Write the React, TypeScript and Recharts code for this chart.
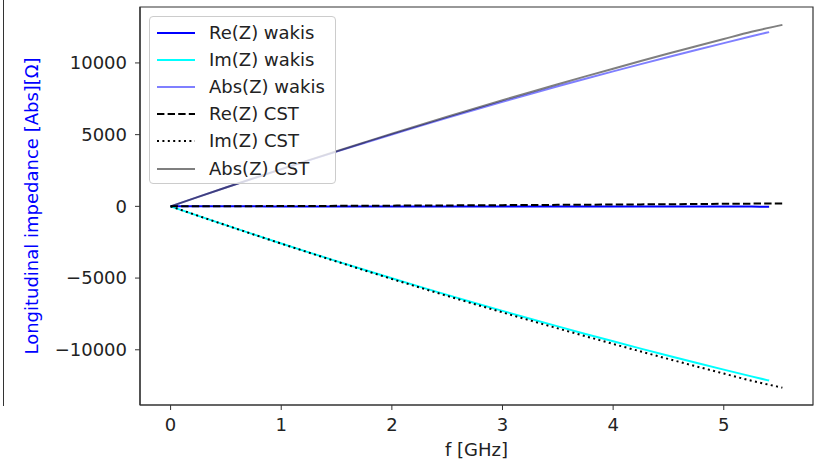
import React from "react";
import { Label, Line, LineChart, ReferenceArea, XAxis, YAxis } from "recharts";

// frequency grids [GHz]
const freqWakis = [0, 0.25, 0.5, 0.75, 1, 1.25, 1.5, 1.75, 2, 2.25, 2.5, 2.75, 3, 3.25, 3.5, 3.75, 4, 4.25, 4.5, 4.75, 5, 5.25, 5.41];
const freqCst = [0, 0.25, 0.5, 0.75, 1, 1.25, 1.5, 1.75, 2, 2.25, 2.5, 2.75, 3, 3.25, 3.5, 3.75, 4, 4.25, 4.5, 4.75, 5, 5.25, 5.53];

// impedance [Ohm]
const reWakis = [0, 0, -1, -1, -2, -2, -3, -3, -4, -5, -5, -6, -7, -8, -9, -10, -11, -12, -13, -15, -16, -18, -20];
const imWakis = [0, -661, -1312, -1953, -2585, -3206, -3819, -4420, -5013, -5596, -6171, -6734, -7288, -7833, -8369, -8895, -9411, -9918, -10416, -10904, -11383, -11854, -12148];
const absWakis = [0, 661, 1312, 1953, 2585, 3206, 3819, 4420, 5013, 5596, 6171, 6734, 7288, 7833, 8369, 8895, 9411, 9918, 10416, 10904, 11383, 11854, 12150];
const reCst = [0, 5, 10, 15, 20, 28, 35, 42, 50, 58, 66, 75, 85, 95, 105, 115, 126, 138, 150, 163, 176, 190, 205];
const imCst = [0, -662, -1315, -1960, -2597, -3225, -3846, -4457, -5061, -5656, -6244, -6822, -7392, -7955, -8509, -9054, -9591, -10120, -10641, -11153, -11657, -12154, -12640];
const absCst = [0, 662, 1315, 1960, 2597, 3225, 3846, 4457, 5063, 5658, 6247, 6826, 7397, 7961, 8516, 9062, 9600, 10130, 10652, 11165, 11670, 12168, 12655];

const xTicks = [0, 1, 2, 3, 4, 5];
const yTicks = [-10000, -5000, 0, 5000, 10000];

const FONT = '"DejaVu Sans", sans-serif';
const FS = 18;

const zip = (f: number[], v: number[]) => f.map((x, i) => ({ f: x, v: v[i] }));

const series = [
  { name: "Re(Z) wakis", data: zip(freqWakis, reWakis), color: "#0000ff", opacity: 1, dash: undefined },
  { name: "Im(Z) wakis", data: zip(freqWakis, imWakis), color: "#00ffff", opacity: 1, dash: undefined },
  { name: "Abs(Z) wakis", data: zip(freqWakis, absWakis), color: "#0000ff", opacity: 0.5, dash: undefined },
  { name: "Re(Z) CST", data: zip(freqCst, reCst), color: "#000000", opacity: 1, dash: "7.4 3.2" },
  { name: "Im(Z) CST", data: zip(freqCst, imCst), color: "#000000", opacity: 1, dash: "2 3.4" },
  { name: "Abs(Z) CST", data: zip(freqCst, absCst), color: "#000000", opacity: 0.5, dash: undefined },
];

const xDomain = [-0.2765, 5.8065];
const yDomain = [-13850, 13900];

const fmt = (v: number) => (v < 0 ? `\u2212${Math.abs(v)}` : `${v}`);

function YTitle(props: any) {
  const vb = props.viewBox;
  const cx = vb.x + 38;
  const cy = vb.y + vb.height / 2;
  return (
    <text x={cx} y={cy} transform={`rotate(-90 ${cx} ${cy})`} textAnchor="middle" fill="#0000ff" fontSize={FS} fontFamily={FONT}>
      Longitudinal impedance [Abs][Ω]
    </text>
  );
}

function XTitle(props: any) {
  const vb = props.viewBox;
  return (
    <text x={vb.x + vb.width / 2} y={vb.y + 51} textAnchor="middle" fill="#222" fontSize={FS} fontFamily={FONT}>
      f [GHz]
    </text>
  );
}

function LegendBox() {
  return (
    <div
      style={{
        position: "absolute",
        left: 149,
        top: 16,
        width: 187,
        height: 168,
        boxSizing: "border-box",
        border: "1px solid #cccccc",
        borderRadius: 4,
        background: "rgba(255,255,255,0.8)",
        paddingTop: 2,
      }}
    >
      {series.map((s) => (
        <div key={s.name} style={{ display: "flex", alignItems: "center", height: 27.2, fontSize: FS, color: "#222" }}>
          <svg width={38} height={4} style={{ marginLeft: 7, marginRight: 14 }}>
            <line x1={0} y1={2} x2={38} y2={2} stroke={s.color} strokeOpacity={s.opacity} strokeWidth={2} strokeDasharray={s.dash} />
          </svg>
          <span style={{ lineHeight: 1 }}>{s.name}</span>
        </div>
      ))}
    </div>
  );
}

export default function App() {
  return (
    <div style={{ position: "absolute", left: 0, top: 0, width: 814, height: 462, background: "#fff", fontFamily: FONT }}>
      {/* spine of the neighbouring panel */}
      <div style={{ position: "absolute", left: 3, top: 0, height: 406, borderLeft: "1.3px solid #333" }} />
      <LineChart width={814} height={462} margin={{ top: 7, right: 1, left: 0, bottom: 0 }}>
        <XAxis
          dataKey="f"
          type="number"
          domain={xDomain}
          ticks={xTicks}
          allowDataOverflow
          height={57}
          tickSize={5}
          tickMargin={8}
          tick={{ fill: "#222", fontSize: FS, fontFamily: FONT }}
          tickLine={{ stroke: "#333" }}
          axisLine={{ stroke: "#333", strokeWidth: 1.2 }}
        >
          <Label content={XTitle} />
        </XAxis>
        <YAxis
          type="number"
          domain={yDomain}
          ticks={yTicks}
          allowDataOverflow
          width={140}
          tickSize={5}
          tickMargin={8}
          tickFormatter={fmt}
          tick={{ fill: "#222", fontSize: FS, fontFamily: FONT }}
          tickLine={{ stroke: "#333" }}
          axisLine={{ stroke: "#333", strokeWidth: 1.2 }}
        >
          <Label content={YTitle} />
        </YAxis>
        {series.map((s) => (
          <Line
            key={s.name}
            data={s.data}
            dataKey="v"
            name={s.name}
            type="monotone"
            stroke={s.color}
            strokeOpacity={s.opacity}
            strokeWidth={2}
            strokeDasharray={s.dash}
            dot={false}
            activeDot={false}
            isAnimationActive={false}
          />
        ))}
        <ReferenceArea x1={xDomain[0]} x2={xDomain[1]} y1={yDomain[0]} y2={yDomain[1]} fill="none" stroke="#333" strokeWidth={1.2} />
      </LineChart>
      <LegendBox />
    </div>
  );
}
